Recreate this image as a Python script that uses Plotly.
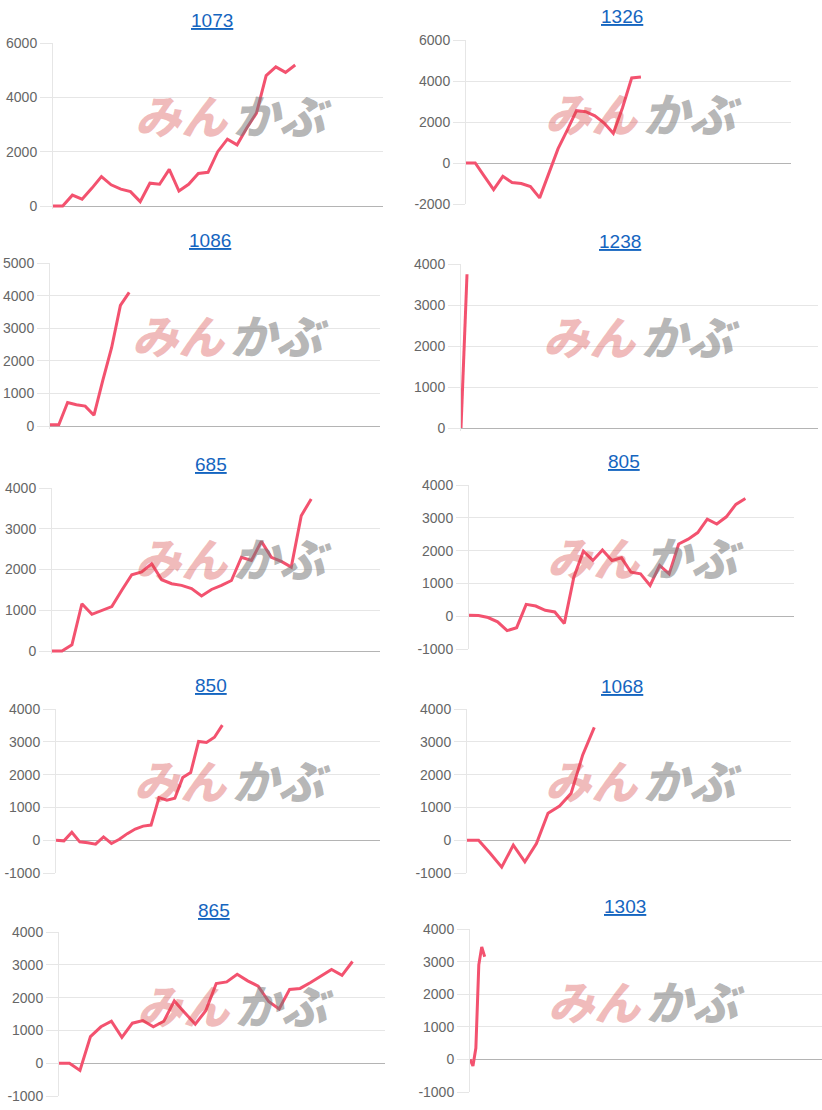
import plotly.graph_objects as go

# ---- data ----
titles = ["1073", "1326", "1086", "1238", "685", "805", "850", "1068", "865", "1303"]

v1073 = [0, 0, 400, 250, 650, 1080, 780, 620, 530, 160, 840, 800, 1350, 550, 800, 1200,
         1240, 2000, 2460, 2250, 2870, 3420, 4800, 5120, 4920, 5190]
v1326 = [0, 0, -650, -1300, -650, -950, -1000, -1150, -1700, -500, 700, 1600, 2550, 2500,
         2300, 1950, 1450, 2700, 4150, 4200]
v1086 = [40, 40, 720, 650, 610, 330, 1400, 2400, 3700, 4100]
v1238 = [0, 3750]
v685 = [0, 0, 150, 1160, 900, 1000, 1090, 1490, 1870, 1940, 2140, 1750, 1650, 1610, 1530,
        1350, 1510, 1610, 1730, 2300, 2220, 2690, 2300, 2200, 2060, 3320, 3730]
v805 = [30, 20, -40, -170, -440, -350, 360, 310, 180, 130, -220, 1190, 1980, 1700, 2020,
        1700, 1780, 1340, 1290, 940, 1550, 1290, 2200, 2350, 2550, 2960, 2810, 3030, 3410, 3590]
v850 = [0, -20, 240, -50, -80, -120, 100, -100, 30, 200, 340, 430, 460, 1300, 1220, 1280,
        1910, 2060, 3010, 2980, 3140, 3510]
v1068 = [0, 0, -400, -820, -150, -660, -100, 820, 1040, 1430, 2600, 3440]
v865 = [0, 0, -220, 810, 1110, 1280, 790, 1220, 1300, 1110, 1280, 1900, 1540, 1190, 1600,
        2430, 2480, 2710, 2510, 2350, 1880, 1650, 2250, 2280, 2460, 2660, 2860, 2680, 3100]
v1303 = [0, -200, 350, 2900, 3450, 3150]

series = [v1073, v1326, v1086, v1238, v685, v805, v850, v1068, v865, v1303]

ticks_a = [0, 2000, 4000, 6000]
ticks_b = [-2000, 0, 2000, 4000, 6000]
ticks_c = [0, 1000, 2000, 3000, 4000, 5000]
ticks_d = [0, 1000, 2000, 3000, 4000]
ticks_e = [-1000, 0, 1000, 2000, 3000, 4000]
yticks = [ticks_a, ticks_b, ticks_c, ticks_d, ticks_d, ticks_e, ticks_e, ticks_e, ticks_e, ticks_e]

# ---- layout (pixels) ----
W, H = 822, 1110
# left, right, top(ymax), bottom(ymin)
rects = [
    (53, 383, 43, 206), (466, 791, 40, 204),
    (50, 380, 263, 426), (461, 818, 264, 428),
    (52, 380, 488, 651), (469, 794, 485, 649),
    (56, 380, 709, 873), (467, 791, 709, 873),
    (59, 385, 932, 1096), (470, 822, 929, 1092),
]
xspan = [34.06, 35.3, 37.5, 59.5, 32.9, 34.1, 40.9, 28.0, 31.1, 120.0]
title_pos = [(212, 20), (622, 17), (210, 240), (620, 241), (211, 465),
             (624, 462), (211, 685), (622, 686), (214, 910), (625, 906)]
wm_pos = [(232, 114), (642, 112), (229, 334), (640, 335), (232, 557),
          (644, 556), (231, 779), (642, 779), (234, 1004), (645, 1000)]

LINE = "#f3526f"
GRID = "#e6e6e6"
ZERO = "#b4b4b4"
TICKC = "#666666"
FONT = "Liberation Sans, Arial, sans-serif"

fig = go.Figure()
layout = dict(width=W, height=H,
              margin=dict(l=0, r=0, t=0, b=0, pad=0, autoexpand=False),
              paper_bgcolor="white", plot_bgcolor="white", showlegend=False,
              annotations=[])

for i, vals in enumerate(series):
    n = i + 1
    xa = "x" if n == 1 else f"x{n}"
    ya = "y" if n == 1 else f"y{n}"
    l, r, t, b = rects[i]
    tv = yticks[i]
    ymin, ymax = tv[0], tv[-1]
    pad = 3 if ymin == 0 else 0
    per_px = (ymax - ymin) / (b - t)
    rlo = ymin - pad * per_px
    fig.add_trace(go.Scatter(x=list(range(len(vals))), y=vals, mode="lines",
                             line=dict(color=LINE, width=3), xaxis=xa, yaxis=ya,
                             hoverinfo="skip"))
    key_x = "xaxis" if n == 1 else f"xaxis{n}"
    key_y = "yaxis" if n == 1 else f"yaxis{n}"
    layout[key_x] = dict(domain=[l / W, r / W], range=[0, xspan[i]], anchor=ya,
                         showgrid=False, zeroline=False, showline=False,
                         showticklabels=False, ticks="", fixedrange=True,
                         automargin=False)
    layout[key_y] = dict(domain=[(H - b - pad) / H, (H - t) / H], range=[rlo, ymax],
                         anchor=xa, tickvals=tv, ticktext=[str(v) for v in tv],
                         showgrid=True, gridcolor=GRID, gridwidth=1,
                         zeroline=True, zerolinecolor=ZERO, zerolinewidth=1,
                         showline=True, linecolor=GRID, linewidth=1,
                         ticks="outside", ticklen=12, tickcolor=GRID,
                         tickfont=dict(family=FONT, size=14, color=TICKC),
                         fixedrange=True, automargin=False)
    cx, cy = title_pos[i]
    layout["annotations"].append(dict(
        text=f"<u>{titles[i]}</u>", x=cx / W, y=1 - cy / H, xref="paper", yref="paper",
        xanchor="center", yanchor="middle", showarrow=False,
        font=dict(family=FONT, size=19, color="#1565c0")))
    wx, wy = wm_pos[i]
    layout["annotations"].append(dict(
        text="みん", x=(wx - 50) / W, y=1 - wy / H, xref="paper", yref="paper",
        xanchor="center", yanchor="middle", showarrow=False,
        font=dict(family="Noto Sans CJK JP", size=46, color="rgba(214,60,60,0.35)",
                  weight=900, style="italic")))
    layout["annotations"].append(dict(
        text="かぶ", x=(wx + 50) / W, y=1 - wy / H, xref="paper", yref="paper",
        xanchor="center", yanchor="middle", showarrow=False,
        font=dict(family="Noto Sans CJK JP", size=46, color="rgba(120,120,120,0.55)",
                  weight=900, style="italic")))

fig.update_layout(**layout)
fig.write_html("out.html", config={"displayModeBar": False, "responsive": False},
               post_script="document.body.style.margin='0';document.body.style.overflow='hidden';")
